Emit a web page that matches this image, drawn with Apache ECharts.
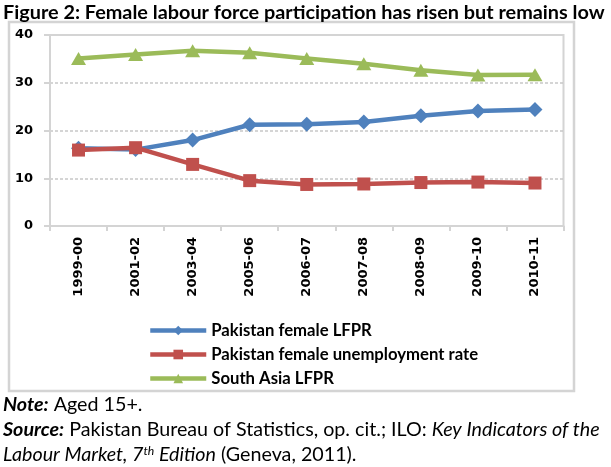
<!DOCTYPE html>
<html><head><meta charset="utf-8">
<script src="https://cdn.jsdelivr.net/npm/echarts@6/dist/echarts.min.js"></script>
<style>html,body{margin:0;padding:0;background:#fff}#c{width:611px;height:467px}</style>
</head><body><div id="c"></div>
<script>
const categories = ['1999-00','2001-02','2003-04','2005-06','2006-07','2007-08','2008-09','2009-10','2010-11'];
const pakistanLFPR = [16.3,16.0,18.0,21.2,21.3,21.8,23.1,24.1,24.4];
const pakistanUnemployment = [15.9,16.4,12.9,9.5,8.7,8.8,9.1,9.2,9.0];
const southAsiaLFPR = [35.1,35.9,36.7,36.3,35.1,34.0,32.6,31.6,31.7];
const seriesNames = ['Pakistan female LFPR','Pakistan female unemployment rate','South Asia LFPR'];
const yTicks = [0,10,20,30,40];
const titleText = 'Figure 2: Female labour force participation has risen but remains low';

const FAM = 'Lato';
const ctx = document.createElement('canvas').getContext('2d');
function tw(text, style, size, fam) { ctx.font = style + ' ' + size + 'px ' + (fam || FAM); return ctx.measureText(text).width; }
function fit(parts, target) {
  const base = 20;
  let total = 0; parts.forEach(p => total += tw(p[0], p[1], base));
  return base * target / total;
}
const titleSize = fit([[titleText,'bold']], 602);
const legendSize = fit([[seriesNames[1],'bold']], 267);
const footSize = fit([['Source:','italic bold'],[' Pakistan Bureau of Statistics, op. cit.; ILO: ','normal'],['Key Indicators of the','italic']], 597);

const chart = echarts.init(document.getElementById('c'), null, {renderer:'canvas'});
const colors = ['#4F81BD','#C0504D','#9BBB59'];
const GRAY = '#d4d4d4';
const axisFont = {fontFamily:'DejaVu Sans', fontWeight:'bold', fontSize:13, color:'#000'};
const footRich = {
  bi:{fontFamily:FAM, fontStyle:'italic', fontWeight:'bold', fontSize:footSize, color:'#000'},
  n:{fontFamily:FAM, fontSize:footSize, color:'#000'},
  i:{fontFamily:FAM, fontStyle:'italic', fontSize:footSize, color:'#000'},
  sup:{fontFamily:FAM, fontStyle:'italic', fontSize:footSize*0.62, color:'#000', verticalAlign:'top'}
};
chart.setOption({
  animation:false,
  color:colors,
  grid:{left:50, top:35, right:47.5, bottom:241, show:true, borderColor:GRAY, borderWidth:2, backgroundColor:'rgba(0,0,0,0)'},
  xAxis:{type:'category', data:categories, boundaryGap:true,
    axisLine:{show:true, lineStyle:{color:GRAY, width:2}},
    axisTick:{show:true, length:5, interval:0, lineStyle:{color:GRAY, width:2}},
    axisLabel:Object.assign({rotate:90, interval:0, margin:11}, axisFont),
    splitLine:{show:false}},
  yAxis:{type:'value', min:yTicks[0], max:yTicks[yTicks.length-1], interval:yTicks[1]-yTicks[0],
    axisLine:{show:true, lineStyle:{color:GRAY, width:2}},
    axisTick:{show:true, length:6, lineStyle:{color:GRAY, width:2}},
    axisLabel:Object.assign({margin:17}, axisFont),
    splitLine:{show:true, showMinLine:false, showMaxLine:false, lineStyle:{color:'#c8c8c8', type:[3,2], width:1.5}}},
  legend:{orient:'vertical', left:143, top:317, itemWidth:56, itemHeight:12, itemGap:7,
    data:seriesNames,
    lineStyle:{width:4.5},
    textStyle:{fontFamily:FAM, fontWeight:'bold', fontSize:legendSize, color:'#000'}},
  series:[
    {name:seriesNames[0], type:'line', data:pakistanLFPR, symbol:'diamond', symbolSize:[15,15], lineStyle:{width:4.5}, itemStyle:{color:colors[0]}, z:3},
    {name:seriesNames[1], type:'line', data:pakistanUnemployment, symbol:'rect', symbolSize:13, lineStyle:{width:4.5}, itemStyle:{color:colors[1]}, z:4},
    {name:seriesNames[2], type:'line', data:southAsiaLFPR, symbol:'triangle', symbolSize:[15,13], lineStyle:{width:4.5}, itemStyle:{color:colors[2]}, z:2}
  ],
  graphic:[
    {type:'rect', shape:{x:9, y:22, width:565, height:369}, style:{fill:'rgba(0,0,0,0)', stroke:GRAY, lineWidth:2.5}, silent:true, z:0},
    {type:'text', left:3, top:3, style:{text:titleText, fontFamily:FAM, fontWeight:'bold', fontSize:titleSize, fill:'#000'}},
    {type:'text', left:3, top:395, style:{text:'{bi|Note:}{n| Aged 15+.}', rich:footRich}},
    {type:'text', left:3, top:420, style:{text:'{bi|Source:}{n| Pakistan Bureau of Statistics, op. cit.; ILO: }{i|Key Indicators of the}', rich:footRich}},
    {type:'text', left:3, top:445, style:{text:'{i|Labour Market, 7}{sup|th}{i| Edition}{n| (Geneva, 2011).}', rich:footRich}}
  ]
});
</script></body></html>
